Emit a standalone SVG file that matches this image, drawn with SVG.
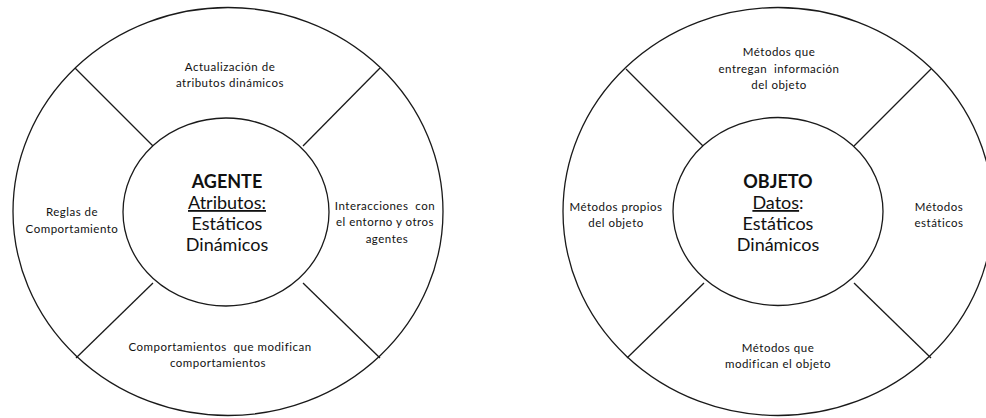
<svg xmlns="http://www.w3.org/2000/svg" width="986" height="418" viewBox="0 0 986 418">
<style>
.ring{fill:none;stroke:#1a1a1a;stroke-width:1.3}
.div{stroke:#1a1a1a;stroke-width:1.3}
.s{font-family:Lato,"Liberation Sans",sans-serif;font-size:11.5px;letter-spacing:0.5px;fill:#111;text-anchor:middle;white-space:pre}
.c{font-family:Lato,"Liberation Sans",sans-serif;font-size:18px;fill:#111;text-anchor:middle}
.b{font-weight:bold}
.u{text-decoration:underline}
</style>
<rect width="986" height="418" fill="#fff"/>
<g id="agente">
<ellipse class="ring" cx="228" cy="211.5" rx="215" ry="204"/>
<ellipse class="ring" cx="226" cy="212" rx="103" ry="94"/>
<text class="c b" x="227" y="188">AGENTE</text>
<text class="c" x="227" y="209"><tspan class="u">Atributos:</tspan></text>
<text class="c" x="227" y="230">Estáticos</text>
<text class="c" x="227" y="251">Dinámicos</text>
</g>
<g id="agente-top"><text class="s" x="230" y="71">Actualización de</text><text class="s" x="230" y="87">atributos dinámicos</text></g>
<g id="agente-left"><text class="s" x="72" y="216">Reglas de</text><text class="s" x="72" y="233">Comportamiento</text></g>
<g id="agente-right"><text class="s" x="385" y="210">Interacciones  con</text><text class="s" x="385" y="226">el entorno y otros</text><text class="s" x="387" y="243">agentes</text></g>
<g id="agente-bottom"><text class="s" x="220" y="351">Comportamientos  que modifican</text><text class="s" x="218" y="367">comportamientos</text></g>
<g id="objeto">
<ellipse class="ring" cx="778" cy="211.5" rx="215" ry="204"/>
<ellipse class="ring" cx="778" cy="211.5" rx="105" ry="94"/>
<text class="c b" x="778" y="188">OBJETO</text>
<text class="c" x="778" y="209"><tspan class="u">Datos</tspan>:</text>
<text class="c" x="778" y="230">Estáticos</text>
<text class="c" x="778" y="251">Dinámicos</text>
</g>
<g id="objeto-top"><text class="s" x="779" y="56">Métodos que</text><text class="s" x="779" y="73">entregan  información</text><text class="s" x="779" y="89">del objeto</text></g>
<g id="objeto-left"><text class="s" x="616" y="211">Métodos propios</text><text class="s" x="616" y="227">del objeto</text></g>
<g id="objeto-right"><text class="s" x="939" y="211">Métodos</text><text class="s" x="939" y="227">estáticos</text></g>
<g id="objeto-bottom"><text class="s" x="778" y="352">Métodos que</text><text class="s" x="778" y="368">modifican el objeto</text></g>
<g id="connectors">
<line class="div" x1="75" y1="68" x2="153" y2="146"/>
<line class="div" x1="380" y1="68" x2="303" y2="146"/>
<line class="div" x1="76" y1="358" x2="153" y2="283"/>
<line class="div" x1="380" y1="358" x2="303" y2="283"/>
<line class="div" x1="626" y1="69" x2="703" y2="146"/>
<line class="div" x1="931" y1="69" x2="854" y2="146"/>
<line class="div" x1="627" y1="358" x2="704" y2="283"/>
<line class="div" x1="931" y1="358" x2="854" y2="283"/>
</g>
</svg>
